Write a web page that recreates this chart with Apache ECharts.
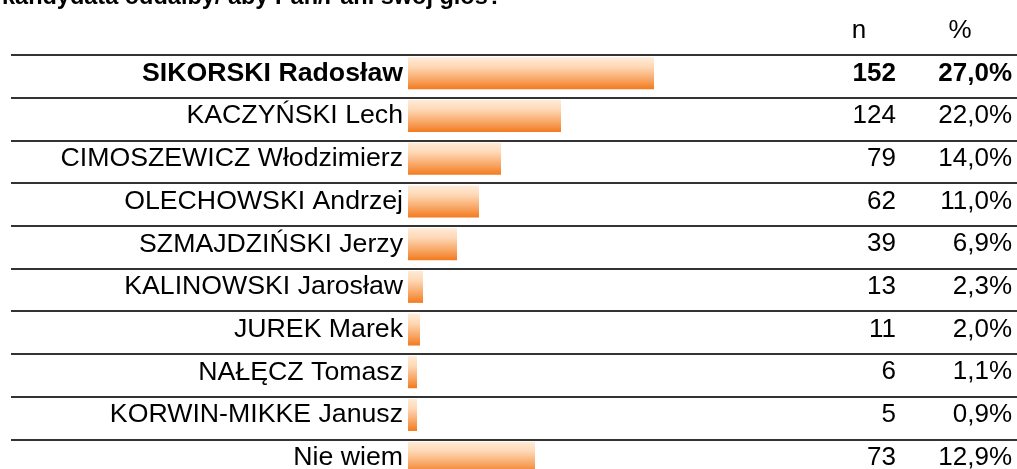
<!DOCTYPE html>
<html>
<head>
<meta charset="utf-8">
<script src="https://cdn.jsdelivr.net/npm/echarts@6/dist/echarts.min.js"></script>
<style>html,body{margin:0;padding:0;background:#fff;overflow:hidden}#c{width:1017px;height:469px}</style>
</head>
<body>
<div id="c"></div>
<script>
// Data
var titleText = 'kandydata oddałby/ aby Pan/Pani swój głos?';
var categories = ['SIKORSKI Radosław','KACZYŃSKI Lech','CIMOSZEWICZ Włodzimierz','OLECHOWSKI Andrzej','SZMAJDZIŃSKI Jerzy','KALINOWSKI Jarosław','JUREK Marek','NAŁĘCZ Tomasz','KORWIN-MIKKE Janusz','Nie wiem'];
var nValues = [152,124,79,62,39,13,11,6,5,73];
var pctLabels = ['27,0%','22,0%','14,0%','11,0%','6,9%','2,3%','2,0%','1,1%','0,9%','12,9%'];
// bar lengths as drawn in the picture (bar scale units)
var barLengths = [246,153,93,71,49,15,12,9,9,127];
var colHeaders = ['n','%'];

var FONT = '"Liberation Sans", Arial, Helvetica, sans-serif';
var FS = 26;
var FS_NAME = 26.7;
var boldIdx = 0;

function richFmt(textOf) {
  return function (v, i) {
    var t = textOf(v, i);
    return i === boldIdx ? '{b|' + t + '}' : '{n|' + t + '}';
  };
}
function makeRich(size) {
  return {
    b: { fontSize: size, fontWeight: 'bold', color: '#000', fontFamily: FONT },
    n: { fontSize: size, fontWeight: 'normal', color: '#000', fontFamily: FONT }
  };
}

var chart = echarts.init(document.getElementById('c'), null, { renderer: 'canvas' });

var gradient = new echarts.graphic.LinearGradient(0, 0, 0, 1, [
  { offset: 0, color: '#FFEBD8' },
  { offset: 0.3, color: '#FED8B6' },
  { offset: 0.7, color: '#F8A563' },
  { offset: 1, color: '#F37A1E' }
]);

var option = {
  animation: false,
  backgroundColor: '#fff',
  textStyle: { fontFamily: FONT },
  grid: [
    { left: 408, right: 0, top: 52, height: 427, containLabel: false, outerBoundsMode: 'none' },
    { left: 11, right: 0, top: 55, height: 427, containLabel: false, outerBoundsMode: 'none' }
  ],
  xAxis: [
    { gridIndex: 0, type: 'value', min: 0, max: 609, show: false },
    { gridIndex: 1, type: 'value', min: 0, max: 1, show: false }
  ],
  yAxis: [
    {
      gridIndex: 0, type: 'category', inverse: true, data: categories,
      axisLine: { show: false }, axisTick: { show: false }, splitLine: { show: false },
      axisLabel: { margin: 5, rich: makeRich(FS_NAME), formatter: richFmt(function (v) { return v; }) }
    },
    {
      gridIndex: 0, type: 'category', inverse: true, position: 'right', data: categories,
      axisLine: { show: false }, axisTick: { show: false }, splitLine: { show: false },
      axisLabel: {
        margin: -121, align: 'right', rich: makeRich(FS),
        formatter: richFmt(function (v, i) { return String(nValues[i]); })
      }
    },
    {
      gridIndex: 0, type: 'category', inverse: true, position: 'right', data: categories,
      axisLine: { show: false }, axisTick: { show: false }, splitLine: { show: false },
      axisLabel: {
        margin: -5, align: 'right', rich: makeRich(FS),
        formatter: richFmt(function (v, i) { return pctLabels[i]; })
      }
    },
    {
      gridIndex: 1, type: 'category', inverse: true, data: categories,
      axisLine: { show: false }, axisTick: { show: false }, axisLabel: { show: false },
      splitLine: { show: true, lineStyle: { color: '#333', width: 2 } }
    }
  ],
  series: [
    {
      type: 'bar', xAxisIndex: 0, yAxisIndex: 0, data: barLengths,
      barWidth: 32, itemStyle: { color: gradient }, silent: true
    }
  ],
  graphic: [
    { type: 'text', x: 2, y: 10, style: { text: titleText, font: 'bold 23.5px ' + FONT, fill: '#000', verticalAlign: 'bottom' } },
    { type: 'text', x: 859, y: 31, style: { text: colHeaders[0], font: FS + 'px ' + FONT, fill: '#000', align: 'center', verticalAlign: 'middle' } },
    { type: 'text', x: 960, y: 31, style: { text: colHeaders[1], font: FS + 'px ' + FONT, fill: '#000', align: 'center', verticalAlign: 'middle' } }
  ]
};
chart.setOption(option);
</script>
</body>
</html>
